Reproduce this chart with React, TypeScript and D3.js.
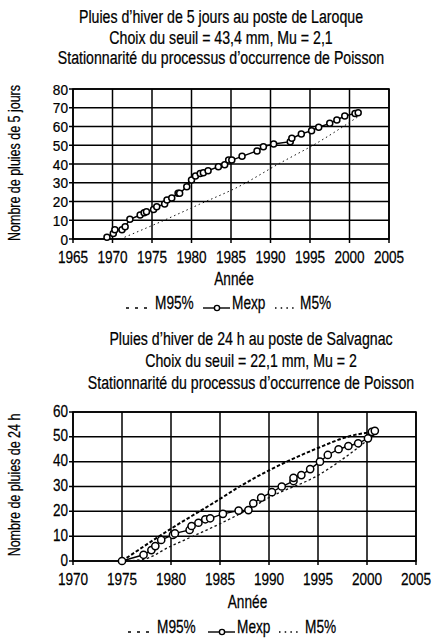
import React from 'react';
import * as d3 from 'd3';

// --- Laroque (5 jours) ---
const laroqueYears = [1969.3, 1970.1, 1970.3, 1971.2, 1971.6, 1972.2, 1973.5, 1974.0, 1974.3, 1975.2, 1975.6, 1976.6, 1976.9, 1977.5, 1978.3, 1978.5, 1979.4, 1980.0, 1980.5, 1981.1, 1981.5, 1982.1, 1983.4, 1984.2, 1984.7, 1985.1, 1986.4, 1988.3, 1989.1, 1990.4, 1992.5, 1992.7, 1993.9, 1995.2, 1996.1, 1997.5, 1998.4, 1999.4, 2000.7, 2001.1];
const laroqueMexp = [1, 3, 5, 5, 6.6, 10.5, 12.8, 14, 14.6, 15.8, 17.2, 18.7, 20.8, 21.9, 24.4, 24.4, 27.9, 31.5, 33.6, 35, 35.4, 36.4, 38.6, 39.6, 42.1, 42.1, 44.1, 47, 49.2, 50.7, 51.9, 53.7, 56, 57.8, 59.6, 61.7, 63.5, 65.6, 67, 67.4];
const laroqueM5Years = [1971, 1976, 1981, 1986, 1991, 1996, 2001];
const laroqueM5 = [0, 9, 18.5, 28, 40, 51.5, 65];

// --- Salvagnac (24 h) ---
const salvYears = [1975, 1977.2, 1978.0, 1978.4, 1979.0, 1980.2, 1980.4, 1981.9, 1982.1, 1982.8, 1983.5, 1984.0, 1985.3, 1986.9, 1987.9, 1988.4, 1989.2, 1990.3, 1991.3, 1992.5, 1992.5, 1993.3, 1994.2, 1995.2, 1996.0, 1997.1, 1998.1, 1999.1, 2000.1, 2000.5, 2000.8];
const salvMexp = [0, 2.5, 4.4, 6, 8.5, 10.5, 11.1, 12.5, 14.1, 15.4, 16.8, 17.2, 19, 20.3, 20.5, 23.2, 25.5, 27.7, 30, 32.2, 33.5, 34.6, 37, 40, 42.7, 45, 46.3, 47.4, 49.4, 52, 52.4];
const salvM95Years = [1975, 1980, 1985, 1987, 1990, 1995, 1998, 2000.5];
const salvM95 = [0, 13, 25, 30, 36.5, 45.5, 50, 52];
const salvM5Years = [1975, 1977, 1980, 1985, 1988, 1990, 1995, 2000.5];
const salvM5 = [0, 0.5, 6, 15, 21, 25.5, 34.5, 50];

const legendLabels = ['M95%', 'Mexp', 'M5%'];

const FONT = "'Liberation Sans', Arial, Helvetica, sans-serif";

const T = ({ x, y, size, sx, anchor = 'middle', rot = false, children }: any) => (
  <text
    transform={`translate(${x},${y})${rot ? ' rotate(-90)' : ''} scale(${sx},1)`}
    fontSize={size}
    textAnchor={anchor}
    fontFamily={FONT}
    fill="#000"
    stroke="#000"
    strokeWidth={0.25}
  >
    {children}
  </text>
);

const Panel = (p: any) => {
  const x = d3.scaleLinear().domain(p.xDomain).range([p.left, p.right]);
  const y = d3.scaleLinear().domain(p.yDomain).range([p.bottom, p.top]);
  const xTicks = d3.range(p.xDomain[0], p.xDomain[1] + 1, 5);
  const yTicks = d3.range(p.yDomain[0], p.yDomain[1] + 1, 10);
  const line = d3.line<[number, number]>().x((d) => x(d[0])).y((d) => y(d[1]));
  const curve = d3.line<[number, number]>().x((d) => x(d[0])).y((d) => y(d[1])).curve(d3.curveMonotoneX);
  const pts: [number, number][] = p.years.map((yr: number, i: number) => [yr, p.mexp[i]]);
  const cx = (p.left + p.right) / 2;
  return (
    <g>
      {p.titles.map((t: string, i: number) => (
        <T key={i} x={p.titleX} y={p.titleY[i]} size={19} sx={0.745}>{t}</T>
      ))}
      {/* grid */}
      {xTicks.map((t: number) => (
        <line key={'gx' + t} x1={x(t)} x2={x(t)} y1={p.top} y2={p.bottom + 4} stroke="#000" strokeWidth={1.5} />
      ))}
      {yTicks.map((t: number) => (
        <line key={'gy' + t} x1={p.left - 4} x2={p.right} y1={y(t)} y2={y(t)} stroke="#000" strokeWidth={1.5} />
      ))}
      <rect x={p.left} y={p.top} width={p.right - p.left} height={p.bottom - p.top} fill="none" stroke="#000" strokeWidth={1.6} />
      {/* tick labels */}
      {yTicks.map((t: number) => (
        <T key={'ly' + t} x={p.left - 5} y={y(t) + p.yTickOff} size={p.yTickSize} sx={p.yTickSx} anchor="end">{t}</T>
      ))}
      {xTicks.map((t: number) => (
        <T key={'lx' + t} x={x(t)} y={p.xLabelY} size={17} sx={0.8}>{t}</T>
      ))}
      <T x={cx + 3} y={p.xTitleY} size={18} sx={0.76}>Année</T>
      <T x={20} y={p.yTitleY} size={16} sx={0.78} rot>{p.yTitle}</T>
      {/* series */}
      {p.m95 && (
        <path d={curve(p.m95Years.map((yr: number, i: number) => [yr, p.m95[i]])) || ''} fill="none" stroke="#000" strokeWidth={2} strokeDasharray="3.5,2" />
      )}
      {p.m5 && (
        <path d={curve(p.m5Years.map((yr: number, i: number) => [yr, p.m5[i]])) || ''} fill="none" stroke="#111" strokeWidth={p.m5Width} strokeDasharray={p.m5Dash} />
      )}
      <path d={line(pts) || ''} fill="none" stroke="#000" strokeWidth={1.4} />
      {pts.map((d, i) => (
        <circle key={i} cx={x(d[0])} cy={y(d[1])} r={p.r} fill="#fff" stroke="#000" strokeWidth={1.5} />
      ))}
      {/* legend */}
      <g>
        <line x1={p.leg[0]} x2={p.leg[0] + 25} y1={p.legY - 1} y2={p.legY - 1} stroke="#000" strokeWidth={1.7} strokeDasharray="3,6" />
        <T x={p.leg[1]} y={p.legY} size={18} sx={0.76} anchor="start">{legendLabels[0]}</T>
        <line x1={p.leg[2]} x2={p.leg[2] + 27} y1={p.legY - 1} y2={p.legY - 1} stroke="#000" strokeWidth={1.4} />
        <circle cx={p.leg[2] + 14} cy={p.legY - 1} r={2.6} fill="#fff" stroke="#000" strokeWidth={1.4} />
        <T x={p.leg[3]} y={p.legY} size={18} sx={0.76} anchor="start">{legendLabels[1]}</T>
        <line x1={p.leg[4]} x2={p.leg[4] + 22} y1={p.legY - 1} y2={p.legY - 1} stroke="#000" strokeWidth={1.6} strokeDasharray="1.5,4.2" />
        <T x={p.leg[5]} y={p.legY} size={18} sx={0.76} anchor="start">{legendLabels[2]}</T>
      </g>
    </g>
  );
};

export default function App() {
  return (
    <svg width={447} height={640} style={{ position: 'absolute', left: 0, top: 0, background: '#fff' }}>
      <Panel
        titles={['Pluies d\u2019hiver de 5 jours au poste de Laroque', 'Choix du seuil = 43,4 mm, Mu = 2,1', 'Stationnarit\u00e9 du processus d\u2019occurrence de Poisson']}
        titleX={221}
        titleY={[23, 43.5, 64]}
        left={73} right={389} top={89} bottom={239}
        xDomain={[1965, 2005]} yDomain={[0, 80]}
        xLabelY={263} xTitleY={285}
        yTitle="Nombre de pluies de 5 jours" yTitleY={163}
        yTickSize={15.5} yTickSx={0.88} yTickOff={5.5}
        years={laroqueYears} mexp={laroqueMexp}
        m5Years={laroqueM5Years} m5={laroqueM5} m5Width={1} m5Dash="1.5,3"
        r={3}
        legY={309} leg={[126, 155, 203, 232, 275, 300]}
      />
      <Panel
        titles={['Pluies d\u2019hiver de 24 h au poste de Salvagnac', 'Choix du seuil = 22,1 mm, Mu = 2', 'Stationnarit\u00e9 du processus d\u2019occurrence de Poisson']}
        titleX={251}
        titleY={[345, 367, 389]}
        left={73} right={416} top={412} bottom={561}
        xDomain={[1970, 2005]} yDomain={[0, 60]}
        xLabelY={585} xTitleY={608}
        yTitle="Nombre de pluies de 24 h" yTitleY={485}
        yTickSize={16.5} yTickSx={0.82} yTickOff={4.5}
        years={salvYears} mexp={salvMexp}
        m95Years={salvM95Years} m95={salvM95}
        m5Years={salvM5Years} m5={salvM5} m5Width={1.3} m5Dash="2.5,2.5"
        r={3.6}
        legY={633} leg={[128, 157, 208, 237, 279, 305]}
      />
    </svg>
  );
}
